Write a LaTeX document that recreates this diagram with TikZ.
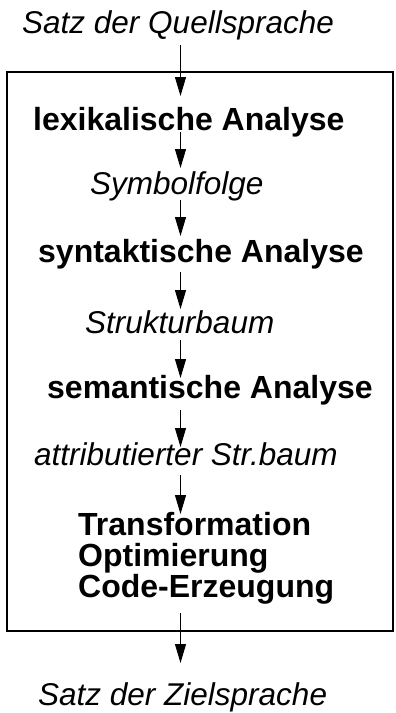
\documentclass[tikz,border=0pt]{standalone}
\usepackage{fontspec}
\setmainfont{Liberation Sans}
\usetikzlibrary{arrows.meta}
\begin{document}
\begin{tikzpicture}[x=1pt,y=1pt,
  label/.style={anchor=base west,inner sep=0pt,font=\fontsize{31.5}{31.5}\selectfont\itshape},
  phase/.style={anchor=base west,inner sep=0pt,font=\fontsize{32}{32}\selectfont\bfseries},
  flow/.style={line width=1pt,-{Triangle[length=19pt,width=11pt]}},
  frame/.style={line width=1.1pt}]
\useasboundingbox (0,-713) rectangle (396,0);
% enclosing box of the compiler
\draw[frame] (7,-72) rectangle (393,-631);
% texts
\node[label] (src)  at (22,-33)  {Satz der Quellsprache};
\node[phase] (lex)  at (33,-130) {lexikalische Analyse};
\node[label] (sym)  at (90,-194) {Symbolfolge};
\node[phase] (syn)  at (38,-262) {syntaktische Analyse};
\node[label] (tree) at (85,-333) {Strukturbaum};
\node[phase] (sem)  at (47,-398) {semantische Analyse};
\node[label] (atree) at (34,-465) {attributierter Str.baum};
\node[phase,align=left,anchor=north west,font=\fontsize{32}{31}\selectfont\bfseries] (gen) at (78,-512)
  {Transformation\\Optimierung\\Code-Erzeugung};
\node[label] (dst)  at (38,-705) {Satz der Zielsprache};
% arrow end points
\coordinate (s1) at (180.5,-45);  \coordinate (e1) at (180.5,-96);
\coordinate (s2) at (180.5,-132); \coordinate (e2) at (180.5,-168);
\coordinate (s3) at (180.5,-200); \coordinate (e3) at (180.5,-236);
\coordinate (s4) at (180.5,-272); \coordinate (e4) at (180.5,-309);
\coordinate (s5) at (180.5,-340); \coordinate (e5) at (180.5,-378);
\coordinate (s6) at (180.5,-410); \coordinate (e6) at (180.5,-447);
\coordinate (s7) at (180.5,-475); \coordinate (e7) at (180.5,-514);
\coordinate (s8) at (180.5,-613); \coordinate (e8) at (180.5,-663);
\foreach \i in {1,...,8} \draw[flow] (s\i) -- (e\i);
\end{tikzpicture}
\end{document}
